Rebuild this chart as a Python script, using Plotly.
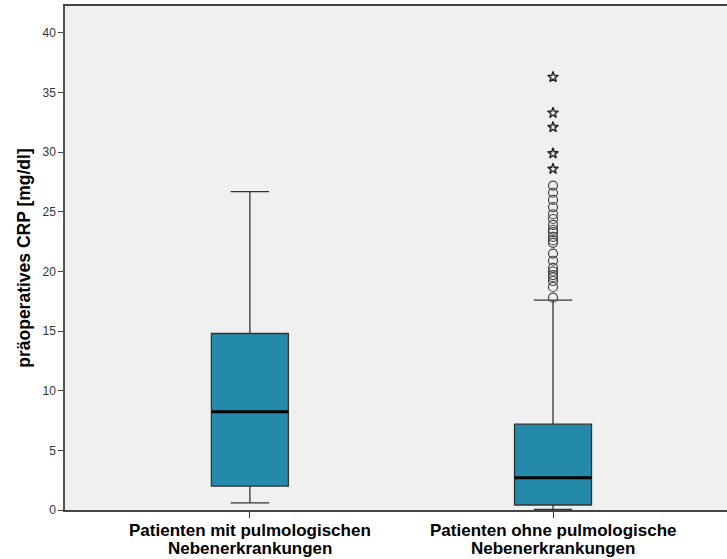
import plotly.graph_objects as go

# Groups and their box statistics (CRP in mg/dl)
group_lines = [["Patienten mit pulmologischen", "Nebenerkrankungen"],
               ["Patienten ohne pulmologische", "Nebenerkrankungen"]]
q1 = [2.0, 0.42]
median = [8.24, 2.7]
q3 = [14.8, 7.2]
lower_whisker = [0.6, 0.05]
upper_whisker = [26.7, 17.6]

# Outliers of the second group: mild (circles) and extreme (stars)
mild_outliers = [27.2, 26.6, 26.0, 25.4, 24.8, 24.4, 23.9, 23.5, 23.3, 22.9,
                 22.6, 22.4, 21.5, 20.9, 20.3, 20.0, 19.7, 19.5, 19.2, 18.7, 17.8]
extreme_outliers = [36.3, 33.3, 32.1, 29.9, 28.6]
outlier_group = 1

y_ticks = [0, 5, 10, 15, 20, 25, 30, 35, 40]

box_width = 0.254
fill = "#248AAB"
positions = list(range(len(group_lines)))
font_family = "Liberation Sans, Arial, sans-serif"

fig = go.Figure()

fig.add_trace(go.Box(
    x=positions, q1=q1, median=median, q3=q3,
    lowerfence=lower_whisker, upperfence=upper_whisker,
    width=box_width, whiskerwidth=0.5,
    fillcolor=fill, line=dict(color="#333333", width=1.3),
    boxpoints=False, showlegend=False, hoverinfo="skip",
))

# thick median bars
for xi, m in zip(positions, median):
    fig.add_trace(go.Scatter(
        x=[xi - box_width / 2, xi + box_width / 2], y=[m, m],
        mode="lines", line=dict(color="black", width=3),
        showlegend=False, hoverinfo="skip",
    ))

fig.add_trace(go.Scatter(
    x=[outlier_group] * len(mild_outliers), y=mild_outliers,
    mode="markers",
    marker=dict(symbol="circle-open", size=9, color="#444444",
                line=dict(width=1.2, color="#444444")),
    showlegend=False,
))
fig.add_trace(go.Scatter(
    x=[outlier_group] * len(extreme_outliers), y=extreme_outliers,
    mode="markers",
    marker=dict(symbol="star-open", size=8, color="#222222",
                line=dict(width=1.4, color="#222222")),
    showlegend=False,
))

# category labels, one annotation per line for tight line spacing
for xi, lines in zip(positions, group_lines):
    for k, line in enumerate(lines):
        fig.add_annotation(
            x=xi, xref="x", y=0, yref="y domain", yanchor="middle",
            yshift=-20 - 18 * k,
            text="<b>" + line + "</b>", showarrow=False,
            font=dict(size=17, color="black", family=font_family),
        )

fig.update_layout(
    width=727, height=559,
    margin=dict(l=65, r=0, t=6, b=49),
    paper_bgcolor="white", plot_bgcolor="#F0F0F0",
    font=dict(family=font_family, color="#333333"),
)
fig.update_xaxes(
    range=[-0.61, 1.574], tickvals=positions, showticklabels=False,
    ticks="outside", ticklen=6, tickcolor="#333333",
    showgrid=False, zeroline=False,
    showline=True, linecolor="#444444", linewidth=1.5, mirror=True,
)
fig.update_yaxes(
    range=[0, 42.26], tickvals=y_ticks,
    ticks="outside", ticklen=5, tickcolor="#444444",
    tickfont=dict(size=12, color="#333333"),
    showgrid=False, zeroline=False,
    showline=True, linecolor="#555555", linewidth=1.5,
    title=dict(text="<b>präoperatives CRP [mg/dl]</b>", standoff=7,
               font=dict(size=17.5, color="black")),
)

fig.write_html("out.html")
